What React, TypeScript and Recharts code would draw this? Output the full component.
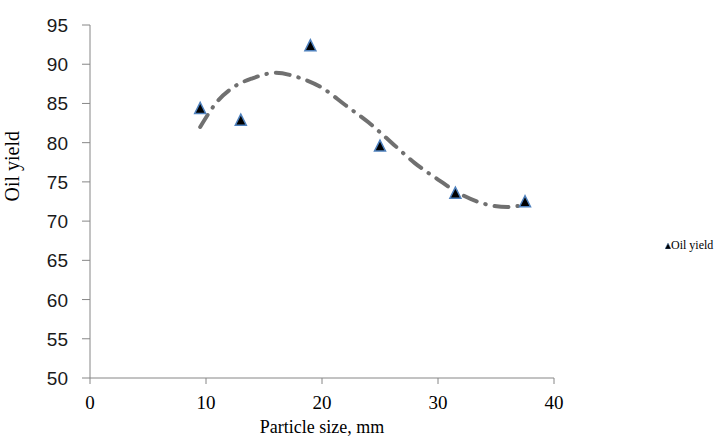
import React from "react";
import { ComposedChart, Scatter, Line, XAxis, YAxis } from "recharts";

// measured points
const sizes = [9.5, 13, 19, 25, 31.5, 37.5];
const yields = [84.3, 82.8, 92.3, 79.5, 73.5, 72.4];

// trend line
const trendX = [9.5, 11, 12.5, 14, 16, 18, 20, 22, 24, 26, 28, 30, 32, 34, 36, 37.5];
const trendY = [82.0, 85.3, 87.2, 88.2, 88.9, 88.3, 87.0, 84.8, 82.6, 80.0, 77.4, 75.3, 73.4, 72.2, 71.8, 72.1];

const xTicks = [0, 10, 20, 30, 40];
const yTicks = [50, 55, 60, 65, 70, 75, 80, 85, 90, 95];

const points = sizes.map((x, i) => ({ x, y: yields[i] }));
const trend = trendX.map((x, i) => ({ x, y: trendY[i] }));

const serif = "Liberation Serif, Times New Roman, serif";
const sans = "Liberation Sans, Arial, sans-serif";

const Triangle = (props: any) => {
  const { cx, cy } = props;
  if (cx == null || cy == null) return null;
  return (
    <polygon
      points={`${cx},${cy - 6.5} ${cx - 5.5},${cy + 4.5} ${cx + 5.5},${cy + 4.5}`}
      fill="#000"
      stroke="#4f81bd"
      strokeWidth={1.5}
    />
  );
};

const XTick = (props: any) => {
  const { x, y, payload } = props;
  return (
    <text x={x} y={y + 17} textAnchor="middle" fill="#000" style={{ fontFamily: serif, fontSize: 19 }}>
      {payload.value}
    </text>
  );
};

const YTick = (props: any) => {
  const { x, y, payload } = props;
  return (
    <text x={x} y={y + 7} textAnchor="end" fill="#1a1a1a" style={{ fontFamily: sans, fontSize: 19 }}>
      {payload.value}
    </text>
  );
};

export default function App() {
  return (
    <div style={{ position: "absolute", left: 0, top: 0, width: 728, height: 439, background: "#fff" }}>
      <ComposedChart width={728} height={439} margin={{ top: 25, right: 174, bottom: 0, left: 0 }}>
        <XAxis
          type="number"
          dataKey="x"
          domain={[0, 40]}
          ticks={xTicks}
          allowDataOverflow
          stroke="#868686"
          tickSize={6}
          tickMargin={8}
          height={61}
          tick={XTick}
          label={{
            value: "Particle size, mm",
            position: "insideBottom",
            offset: 6,
            fill: "#000",
            fontFamily: serif,
            fontSize: 18,
          }}
        />
        <YAxis
          type="number"
          dataKey="y"
          domain={[50, 95]}
          ticks={yTicks}
          allowDataOverflow
          stroke="#868686"
          tickSize={8}
          tickMargin={14}
          width={90}
          tick={YTick}
          label={{
            value: "Oil yield",
            angle: -90,
            position: "insideLeft",
            offset: 12,
            fill: "#000",
            fontFamily: serif,
            fontSize: 20,
          }}
        />
        <Line
          data={trend}
          dataKey="y"
          type="monotone"
          stroke="#707070"
          strokeWidth={4}
          strokeDasharray="14 9 0.5 9"
          strokeLinecap="round"
          dot={false}
          activeDot={false}
          legendType="none"
          isAnimationActive={false}
        />
        <Scatter
          data={points}
          dataKey="y"
          name="Oil yield"
          shape={Triangle}
          isAnimationActive={false}
        />
      </ComposedChart>
      <div
        style={{
          position: "absolute",
          left: 665,
          top: 238,
          display: "flex",
          alignItems: "center",
          fontFamily: serif,
          fontSize: 12,
        }}
      >
        <svg width={6} height={6} style={{ marginRight: 0 }}>
          <polygon points="3,0 0,6 6,6" fill="#000" stroke="#4f81bd" strokeWidth={0.5} />
        </svg>
        <span>Oil yield</span>
      </div>
    </div>
  );
}
